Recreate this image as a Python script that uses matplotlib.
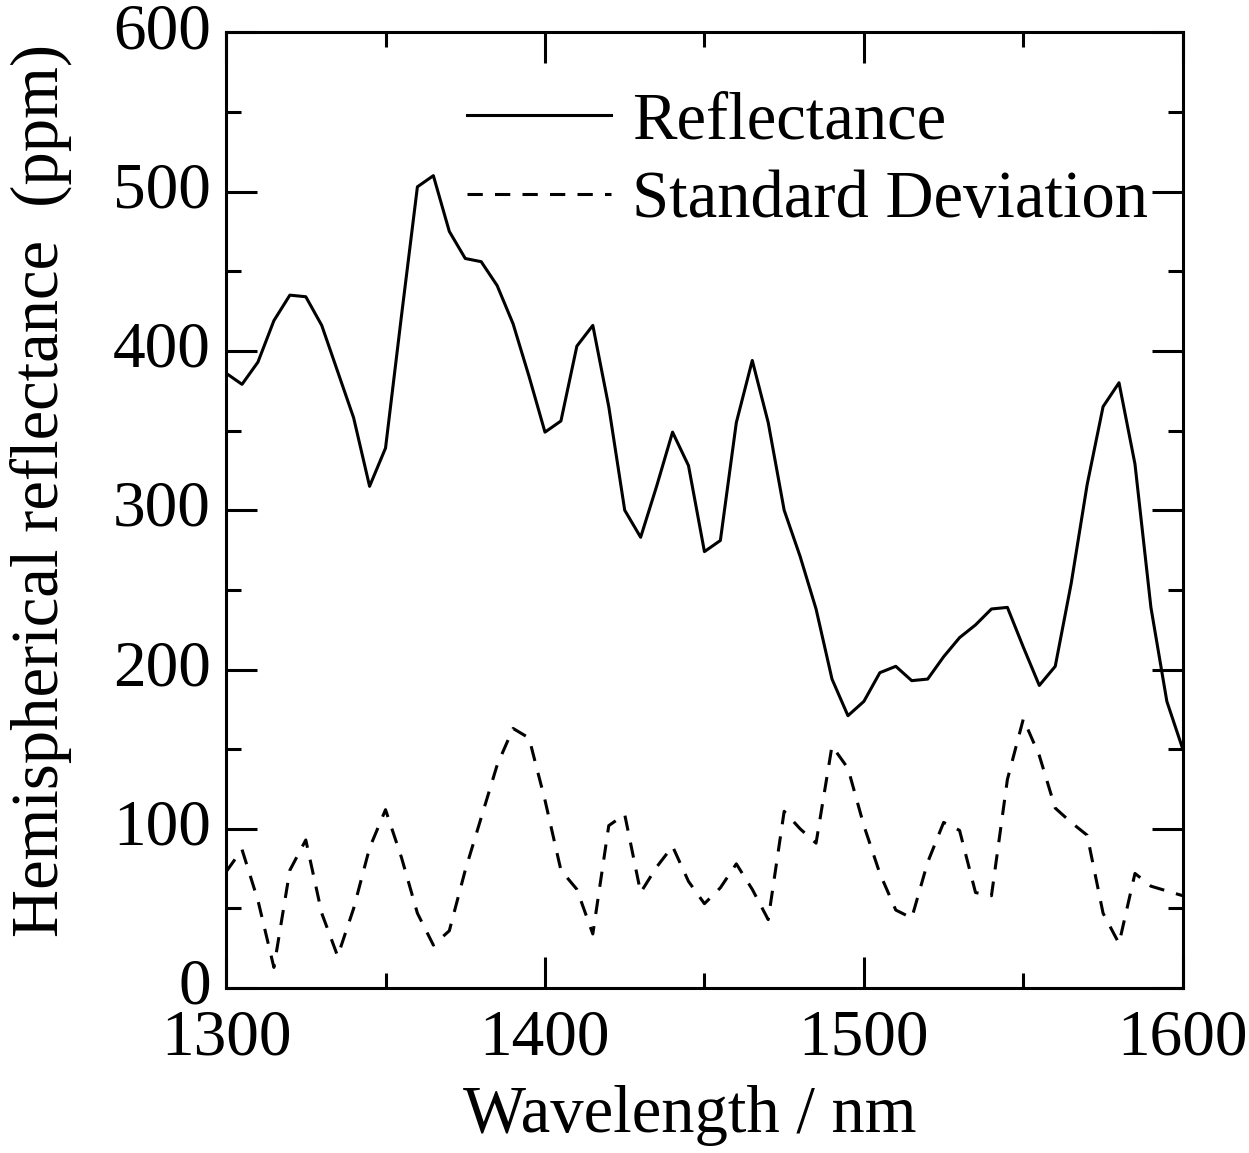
import numpy as np
import matplotlib.pyplot as plt
from matplotlib.ticker import MultipleLocator

# wavelengths sampled every 5 nm
wavelength = np.arange(1300, 1601, 5)

reflectance = [
    386, 379, 393, 419, 435, 434, 416, 387, 358, 315,
    339, 422, 503, 510, 475, 458, 456, 441, 417, 384,
    349, 356, 403, 416, 365, 300, 283, 315, 349, 328,
    274, 281, 355, 394, 355, 300, 271, 238, 194, 171,
    180, 198, 202, 193, 194, 208, 220, 228, 238, 239,
    214, 190, 202, 254, 316, 365, 380, 329, 239, 180,
    150]

std_dev = [
    73, 87, 55, 13, 74, 93, 47, 20, 50, 88,
    112, 82, 47, 27, 36, 74, 107, 140, 163, 157,
    118, 74, 62, 34, 102, 109, 60, 76, 89, 67,
    53, 63, 78, 62, 43, 111, 100, 91, 152, 138,
    102, 72, 49, 44, 79, 104, 99, 60, 58, 131,
    169, 146, 113, 104, 96, 47, 28, 72, 64, 61,
    58]

plt.rcParams['font.family'] = ['Liberation Serif', 'DejaVu Serif']

fig = plt.figure(figsize=(12.49, 11.53), dpi=100)
ax = fig.add_axes([0.181, 0.143, 0.766, 0.829])

lw = 2.2
ax.plot(wavelength, reflectance, color='black', lw=lw, label='Reflectance')
ax.plot(wavelength, std_dev, color='black', lw=lw, linestyle=(0, (5, 4)),
        label='Standard Deviation')

ax.set_xlim(1300, 1600)
ax.set_ylim(0, 600)

ax.xaxis.set_major_locator(MultipleLocator(100))
ax.xaxis.set_minor_locator(MultipleLocator(50))
ax.yaxis.set_major_locator(MultipleLocator(100))
ax.yaxis.set_minor_locator(MultipleLocator(50))

fs = 47
ax.tick_params(which='both', direction='in', top=True, right=True, width=2.2,
               labelsize=fs)
ax.tick_params(axis='x', pad=15)
ax.tick_params(axis='y', pad=11)
ax.tick_params(which='major', length=22)
ax.tick_params(which='minor', length=11)
for lab in ax.get_yticklabels():
    lab.set_verticalalignment('center')
for s in ax.spines.values():
    s.set_linewidth(2.2)

ax.set_xlabel('Wavelength / nm', fontsize=48)
ax.set_ylabel('Hemispherical reflectance  (ppm)', fontsize=48)
ax.xaxis.set_label_coords(0.485, -0.101)
ax.yaxis.set_label_coords(-0.161, 0.521)

ax.legend(loc='upper left', bbox_to_anchor=(0.2235, 0.966), frameon=False,
          fontsize=48, handlelength=2.17, handletextpad=0.31, labelspacing=0.27,
          borderaxespad=0)

fig.savefig('out.png', dpi=100)
